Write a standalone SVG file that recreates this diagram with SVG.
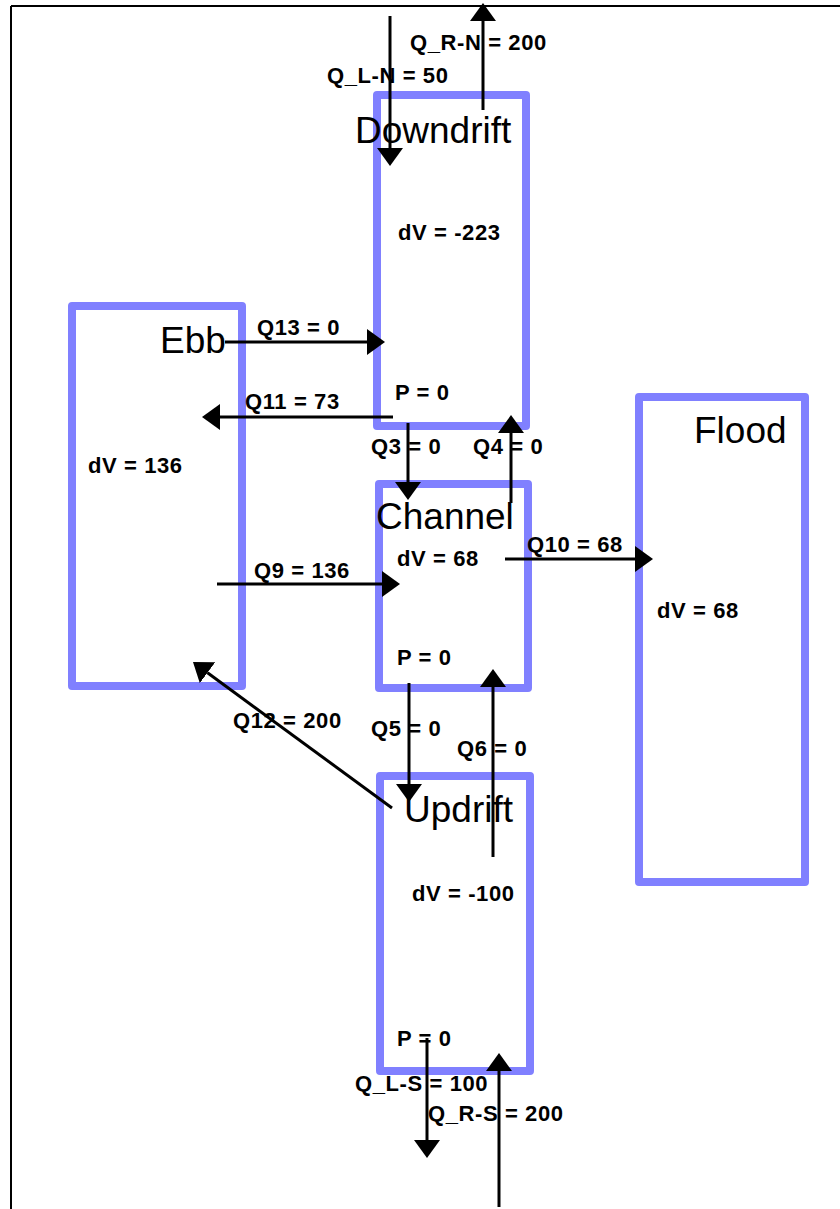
<svg xmlns="http://www.w3.org/2000/svg" width="840" height="1209" viewBox="0 0 840 1209">
<style>
.box{fill:none;stroke:#8080ff;stroke-width:8;stroke-linejoin:round}
.title{font-family:"Liberation Sans",Arial,sans-serif;font-size:37px;fill:#000}
.lbl{font-family:"Liberation Sans",Arial,sans-serif;font-size:22px;font-weight:bold;letter-spacing:0.6px;fill:#000}
.arr{stroke:#000;stroke-width:3;fill:none;marker-end:url(#head)}
</style>
<defs>
<marker id="head" markerUnits="userSpaceOnUse" viewBox="0 0 18 26" refX="0" refY="13" markerWidth="18" markerHeight="26" orient="auto">
<path d="M0,0 L18,13 L0,26 Z" fill="#000"/>
</marker>
</defs>
<rect width="840" height="1209" fill="#fff"/>
<g id="frame">
<line x1="11" y1="6" x2="840" y2="6" stroke="#000" stroke-width="2"/>
<line x1="11" y1="6" x2="11" y2="1209" stroke="#000" stroke-width="2"/>
</g>
<g id="downdrift">
<rect class="box" x="377" y="95" width="149" height="331"/>
<text class="title" x="355" y="143">Downdrift</text>
<text class="lbl" x="398" y="240">dV = -223</text>
<text class="lbl" x="395" y="400">P = 0</text>
</g>
<g id="ebb">
<rect class="box" x="72" y="306" width="170" height="380"/>
<text class="title" x="160" y="353">Ebb</text>
<text class="lbl" x="88" y="473">dV = 136</text>
</g>
<g id="channel">
<rect class="box" x="379" y="484" width="149" height="204"/>
<text class="title" x="376" y="529">Channel</text>
<text class="lbl" x="397" y="566">dV = 68</text>
<text class="lbl" x="397" y="665">P = 0</text>
</g>
<g id="flood">
<rect class="box" x="639" y="397" width="166" height="485"/>
<text class="title" x="694" y="443">Flood</text>
<text class="lbl" x="657" y="618">dV = 68</text>
</g>
<g id="updrift">
<rect class="box" x="380" y="776" width="150" height="295"/>
<text class="title" x="404" y="822">Updrift</text>
<text class="lbl" x="412" y="901">dV = -100</text>
<text class="lbl" x="397" y="1046">P = 0</text>
</g>
<g id="connectors">
<text class="lbl" x="410" y="50">Q_R-N = 200</text>
<text class="lbl" x="327" y="83">Q_L-N = 50</text>
<text class="lbl" x="257" y="335">Q13 = 0</text>
<text class="lbl" x="245" y="409">Q11 = 73</text>
<text class="lbl" x="371" y="454">Q3 = 0</text>
<text class="lbl" x="473" y="454">Q4 = 0</text>
<text class="lbl" x="254" y="578">Q9 = 136</text>
<text class="lbl" x="527" y="552">Q10 = 68</text>
<text class="lbl" x="233" y="728">Q12 = 200</text>
<text class="lbl" x="371" y="736">Q5 = 0</text>
<text class="lbl" x="457" y="756">Q6 = 0</text>
<text class="lbl" x="355" y="1091">Q_L-S = 100</text>
<text class="lbl" x="428" y="1121">Q_R-S = 200</text>
<line class="arr" x1="390" y1="16" x2="390" y2="148"/>
<line class="arr" x1="483" y1="110" x2="483" y2="21"/>
<line class="arr" x1="225" y1="342" x2="367" y2="342"/>
<line class="arr" x1="393" y1="417" x2="220" y2="417"/>
<line class="arr" x1="408" y1="423" x2="408" y2="482"/>
<line class="arr" x1="511" y1="503" x2="511" y2="433"/>
<line class="arr" x1="217" y1="584" x2="382" y2="584"/>
<line class="arr" x1="505" y1="559" x2="635" y2="559"/>
<line class="arr" x1="392" y1="808" x2="207.5" y2="672.7"/>
<line class="arr" x1="409" y1="683" x2="409" y2="784"/>
<line class="arr" x1="493" y1="857" x2="493" y2="687"/>
<line class="arr" x1="427" y1="1038" x2="427" y2="1140"/>
<line class="arr" x1="499" y1="1207" x2="499" y2="1071"/>
</g>
</svg>
